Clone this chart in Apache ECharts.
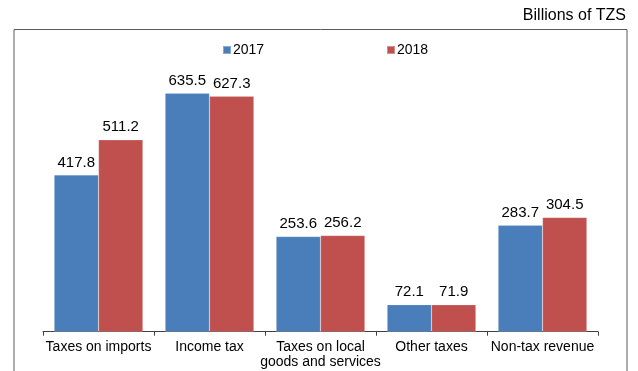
<!DOCTYPE html>
<html>
<head>
<meta charset="utf-8">
<script src="https://cdn.jsdelivr.net/npm/echarts@6/dist/echarts.min.js"></script>
<style>
  html, body { margin: 0; padding: 0; background: #fff; }
  #chart { width: 638px; height: 371px; }
</style>
</head>
<body>
<div id="chart"></div>
<script>
// Revenue by source, billions of TZS
var categories = ['Taxes on imports', 'Income tax', 'Taxes on local\ngoods and services', 'Other taxes', 'Non-tax revenue'];
var values2017 = [417.8, 635.5, 253.6, 72.1, 283.7];
var values2018 = [511.2, 627.3, 256.2, 71.9, 304.5];
var seriesNames = ['2017', '2018'];
var unitLabel = 'Billions of TZS';

var chart = echarts.init(document.getElementById('chart'));
var font = 'Liberation Sans, Arial, sans-serif';

function barSeries(name, data, color) {
  return {
    name: name,
    type: 'bar',
    data: data,
    barGap: '0%',
    barCategoryGap: '20%',
    itemStyle: { color: color, borderColor: 'rgba(255,255,255,0.35)', borderWidth: 0.5 },
    label: {
      show: true,
      position: 'top',
      distance: 5,
      color: '#000',
      fontFamily: font,
      fontSize: 15,
      formatter: function (p) { return p.value.toFixed(1); }
    }
  };
}

function legendFor(name, left) {
  return {
    data: [name],
    left: left, top: 43, padding: 0,
    icon: 'rect', itemWidth: 8, itemHeight: 8, itemGap: 4,
    textStyle: { fontFamily: font, fontSize: 14, color: '#000', padding: [0, 0, 0, -3] }
  };
}

chart.setOption({
  animation: false,
  backgroundColor: '#fff',
  graphic: [
    {
      type: 'rect',
      shape: { x: 14, y: 29.5, width: 613, height: 360 },
      style: { fill: 'none', stroke: '#5a5a5a', lineWidth: 1 },
      silent: true
    },
    {
      type: 'text',
      right: 12,
      top: 8,
      style: { text: unitLabel, fill: '#000', font: '16px ' + font }
    }
  ],
  legend: [legendFor(seriesNames[0], 222), legendFor(seriesNames[1], 386)],
  grid: { left: 43, right: 40, top: 69, bottom: 39.3, containLabel: false },
  xAxis: {
    type: 'category',
    data: categories,
    axisLine: { lineStyle: { color: '#404040', width: 1 } },
    axisTick: { show: true, length: 4, lineStyle: { color: '#404040' } },
    axisLabel: { color: '#000', fontFamily: font, fontSize: 14, margin: 8, lineHeight: 15, interval: 0 }
  },
  yAxis: {
    type: 'value',
    min: 0,
    max: 700,
    show: false,
    splitLine: { show: false }
  },
  series: [
    barSeries(seriesNames[0], values2017, '#4a7ebb'),
    barSeries(seriesNames[1], values2018, '#c0504d')
  ]
});
</script>
</body>
</html>
